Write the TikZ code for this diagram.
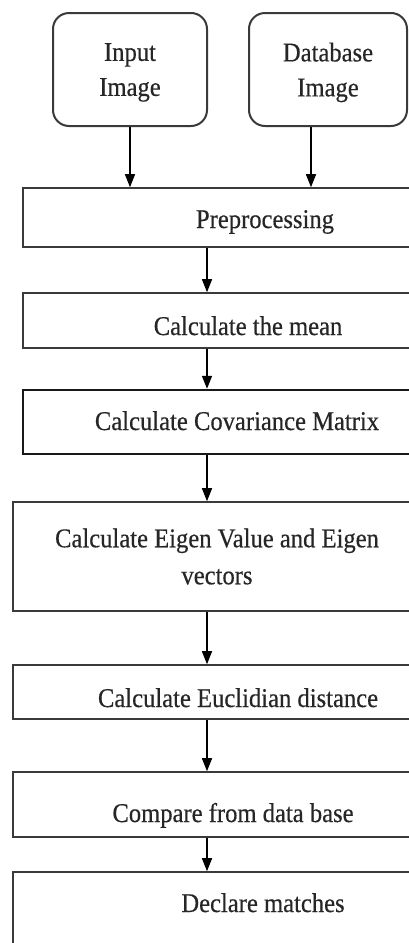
\documentclass[tikz,border=0pt]{standalone}
\usepackage{fontspec}
\setmainfont{Liberation Serif}[FakeBold=0.45]
\usetikzlibrary{arrows.meta}
\definecolor{boxline}{HTML}{3A3A3A}
\newcommand\tl[1]{\scalebox{1}[1.1]{#1}}
\tikzset{
  srcbox/.style={draw=boxline, line width=2pt, rounded corners=16pt, align=center, inner sep=0pt, fill=white},
  stepbox/.style={draw=boxline, line width=1.6pt, inner sep=0pt, align=center, fill=white},
  arr/.style={draw=black, line width=1.4pt, -{Triangle[length=13pt,width=10pt]}},
  txt/.style={font=\fontsize{24.6pt}{35pt}\selectfont, text=black!85}
}
\begin{document}
\begin{tikzpicture}[x=1pt,y=-1pt]
\useasboundingbox (0,0) rectangle (409,943);
\clip (0,0) rectangle (409,943);
\fill[white] (0,0) rectangle (409,943);
\node[srcbox,txt,minimum width=154pt,minimum height=113pt,text depth=0pt] (in) at (130,69.5) {\tl{Input}\\\tl{Image}};
\node[srcbox,txt,minimum width=158pt,minimum height=113pt,text depth=0pt] (db) at (328,69.5) {\tl{Database}\\\tl{Image}};
\node[stepbox,txt,minimum width=484pt,minimum height=59pt,text height=21pt,text depth=0pt] (pre) at (265,217.5) {\tl{Preprocessing}};
\node[stepbox,txt,minimum width=450pt,minimum height=55pt,text height=29pt,text depth=0pt] (mean) at (248,320.5) {\tl{Calculate the mean}};
\node[stepbox,txt,line width=2.4pt,draw=black!90,minimum width=428pt,minimum height=64pt,text height=16pt,text depth=0pt] (cov) at (237,422) {\tl{Calculate Covariance Matrix}};
\node[stepbox,txt,font=\fontsize{24.6pt}{37pt}\selectfont,minimum width=408pt,minimum height=109pt] (eig) at (217,556.5) {\tl{Calculate Eigen Value and Eigen}\\\tl{vectors}};
\node[stepbox,txt,minimum width=450pt,minimum height=54pt,text height=30pt,text depth=0pt] (euc) at (238,692) {\tl{Calculate Euclidian distance}};
\node[stepbox,txt,minimum width=440pt,minimum height=65pt,text height=35pt,text depth=0pt] (cmp) at (233,804.5) {\tl{Compare from data base}};
\node[stepbox,txt,minimum width=500pt,minimum height=88pt,text height=0pt,text depth=8pt] (dec) at (263,916) {\tl{Declare matches}};
\coordinate (dbx) at (311,0);
\coordinate (cx) at (207,0);
\draw[arr] (in.south) -- (in.south |- pre.north);
\draw[arr] (db.south -| dbx) -- (pre.north -| dbx);
\draw[arr] (pre.south -| cx) -- (mean.north -| cx);
\draw[arr] (mean.south -| cx) -- (cov.north -| cx);
\draw[arr] (cov.south -| cx) -- (eig.north -| cx);
\draw[arr] (eig.south -| cx) -- (euc.north -| cx);
\draw[arr] (euc.south -| cx) -- (cmp.north -| cx);
\draw[arr] (cmp.south -| cx) -- (dec.north -| cx);
\end{tikzpicture}
\end{document}
